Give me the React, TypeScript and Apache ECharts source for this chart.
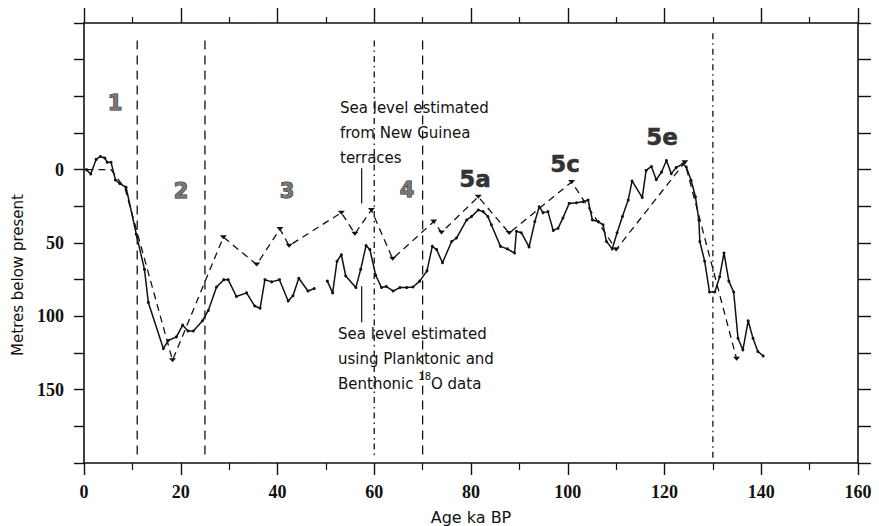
import React, { useEffect, useRef } from 'react';
import * as echarts from 'echarts';

// Sea level estimated using Planktonic and Benthonic 18O data (solid)
const solidAge = [
  0.5, 1.4, 2.5, 3.4, 4.3, 4.8, 5.6, 6.5, 7.4, 8.7, 10.8, 12.5, 13.3, 16.4, 17.4, 19.1, 20.4, 21.5, 22.6, 24.5,
  25.7, 27.4, 28.9, 29.8, 31.5, 33.6, 35.3, 36.4, 37.4, 38.8, 40.4, 42.2, 43.2, 44.4, 46.3, 47.6,
  49.0,
  50.3, 51.4, 52.3, 53.2, 54.1, 56.2, 57.2, 58.3, 59.1, 60.3, 61.5, 62.5, 63.9, 65.3, 66.7, 68.0, 69.4, 70.9,
  72.0, 72.9, 74.1, 76.0, 77.0, 79.1, 80.1, 81.5, 82.5, 83.5, 84.2, 86.1, 87.5, 89.0, 89.4, 90.4, 92.0, 93.2,
  94.1, 94.9, 95.9, 97.0, 98.0, 99.0, 100.3, 101.8, 103.2, 104.2, 105.1, 106.3, 107.3, 108.0, 109.2, 110.2,
  111.3, 112.5, 113.3, 115.4, 116.2, 117.3, 118.3, 119.4, 120.4, 121.4, 122.4, 123.8, 124.5, 125.5, 126.4,
  127.1, 127.3, 128.3, 129.3, 130.4, 131.4, 132.3, 133.3, 134.3, 135.2, 136.2, 137.3, 138.3, 139.3, 140.4,
];
const solidDepth: (number | null)[] = [
  0, 3, -7, -9, -8, -5, -5, 7, 9.5, 12, 44, 68, 90.5, 122, 116.5, 114, 106, 110, 110, 103,
  96, 80, 75, 75, 86.5, 84, 93, 94.5, 75, 76.5, 75, 89.5, 86, 74, 82.7, 81,
  null,
  76, 84, 62.4, 58, 72.5, 80.4, 68, 51.8, 54.5, 72, 80.4, 79.7, 82.7, 80.4, 80.4, 80, 76, 69,
  52.3, 54.5, 63.5, 49, 46.6, 34.3, 32, 27.5, 28.6, 32, 37.6, 52.3, 54, 56.8, 42, 43, 52.7, 35.4,
  25.3, 29.3, 28.6, 41.5, 39.9, 33, 23, 22.6, 21.9, 20.7, 34.3, 35.4, 37.6, 49, 54, 43,
  32, 20.7, 7.7, 19, 0.5, -2.2, 6.8, 1.6, -6.3, 2.7, -1.4, -4, -1.8, 7.2, 18.5,
  34.3, 49, 62.4, 83.4, 83.4, 73, 56.8, 76, 83.4, 115, 123, 103, 115, 124, 127,
];

// Sea level estimated from New Guinea terraces (dashed)
const terraceAge = [0.5, 5.6, 8.5, 18.3, 28.8, 35.7, 40.5, 42.4, 53.2, 56.0, 59.4, 63.8, 72.3, 73.9, 81.5, 87.9, 100.8, 110.0, 124.2, 134.9];
const terraceDepth = [0, 0, 13, 130, 46, 64.7, 40.5, 51.8, 29.3, 43.7, 27.5, 60.8, 35.4, 42.8, 18.5, 43.2, 8.4, 54.5, -5, 129];
const terraceMarked = [false, false, false, true, true, true, true, true, true, true, true, true, true, true, true, true, true, true, true, true];

// Stage boundaries
const boundaryAge = [11, 25, 60, 70, 130];
const boundaryStyle = ['dashed', 'dashed', 'dashdot', 'dashed', 'dashdot'];
const boundaryTop = [-88, -88, -88, -88, -93];
const boundaryBottom = 197;

// Leader lines from the annotations
const leaderAge = 57.4;
const leaderUpper = [-1, 23];
const leaderLower = [79.5, 104];

const xTicks = [0, 20, 40, 60, 80, 100, 120, 140, 160];
const yTickLabels = [0, 50, 100, 150];

const stageLabels = ['1', '2', '3', '4', '5a', '5c', '5e'];

export default function App() {
  const ref = useRef<HTMLDivElement>(null);
  useEffect(() => {
    document.body.style.margin = '0';
    const chart = echarts.init(ref.current!, null, { renderer: 'svg' });

    const solidData = solidAge.map((a, i) => [a, solidDepth[i] === null ? '-' : solidDepth[i]]);
    const terraceData = terraceAge.map((a, i) => ({
      value: [a, terraceDepth[i]],
      symbol: terraceMarked[i] ? 'path://M0 0L10 0L5 6Z' : 'none',
    }));

    const boundarySeries = boundaryAge.map((a, i) => ({
      type: 'line',
      data: [[a, boundaryTop[i]], [a, boundaryBottom]],
      symbol: 'none',
      silent: true,
      lineStyle: {
        color: '#111',
        width: 1.3,
        type: boundaryStyle[i] === 'dashed' ? [9, 6] : [6, 4, 1.5, 4],
      },
      z: 1,
    }));

    const leaderSeries = [leaderUpper, leaderLower].map((seg) => ({
      type: 'line',
      data: [[leaderAge, seg[0]], [leaderAge, seg[1]]],
      symbol: 'none',
      silent: true,
      lineStyle: { color: '#111', width: 1.2 },
    }));

    const axisLineStyle = { color: '#111', width: 1.6 };
    const serif = '"Liberation Serif", "DejaVu Serif", serif';
    const sans = '"DejaVu Sans", sans-serif';

    const stagePos = [
      [115, 103], [181, 191], [287, 191], [407, 190], [475, 179], [565, 164], [662, 137],
    ];

    const option: any = {
      animation: false,
      backgroundColor: '#fff',
      grid: { left: 84, right: 21, top: 23, bottom: 63, containLabel: false },
      xAxis: [
        {
          type: 'value', min: xTicks[0], max: xTicks[xTicks.length - 1], interval: 20, position: 'bottom',
          axisLine: { onZero: false, lineStyle: axisLineStyle },
          axisTick: { show: true, inside: false, length: 12, lineStyle: { color: '#111', width: 1.4 } },
          minorTick: { show: true, splitNumber: 2, length: 7, lineStyle: { color: '#111', width: 1.2 } },
          splitLine: { show: false },
          axisLabel: { color: '#111', fontFamily: serif, fontSize: 18, fontWeight: 'bold', margin: 20 },
        },
        {
          type: 'value', min: xTicks[0], max: xTicks[xTicks.length - 1], interval: 20, position: 'top',
          axisLine: { onZero: false, lineStyle: axisLineStyle },
          axisTick: { show: true, inside: false, length: 15, lineStyle: { color: '#111', width: 1.4 } },
          minorTick: { show: true, splitNumber: 2, length: 6, lineStyle: { color: '#111', width: 1.2 } },
          splitLine: { show: false },
          axisLabel: { show: false },
        },
      ],
      yAxis: [
        {
          type: 'value', inverse: true, min: -100, max: 200, interval: 25, position: 'left',
          axisLine: { onZero: false, lineStyle: axisLineStyle },
          axisTick: { show: true, inside: false, length: 10, lineStyle: { color: '#111', width: 1.4 } },
          splitLine: { show: false },
          axisLabel: {
            color: '#111', fontFamily: serif, fontSize: 18, fontWeight: 'bold', margin: 20,
            formatter: (v: number) => (yTickLabels.includes(v) ? String(v) : ''),
          },
        },
        {
          type: 'value', inverse: true, min: -100, max: 200, interval: 25, position: 'right',
          axisLine: { onZero: false, lineStyle: axisLineStyle },
          axisTick: { show: true, inside: false, length: 13, lineStyle: { color: '#111', width: 1.4 } },
          splitLine: { show: false },
          axisLabel: { show: false },
        },
      ],
      series: [
        ...boundarySeries,
        ...leaderSeries,
        {
          type: 'line',
          name: 'New Guinea terraces',
          data: terraceData,
          symbolSize: [7, 4],
          itemStyle: { color: '#111' },
          lineStyle: { color: '#111', width: 1.3, type: [7, 5] },
          z: 3,
        },
        {
          type: 'line',
          name: 'Planktonic and Benthonic 18O',
          data: solidData,
          connectNulls: false,
          symbol: 'circle',
          symbolSize: 3,
          showSymbol: true,
          itemStyle: { color: '#111' },
          lineStyle: { color: '#111', width: 1.5 },
          z: 4,
        },
      ],
      graphic: [
        ...stageLabels.map((t, i) => ({
          type: 'text',
          x: stagePos[i][0], y: stagePos[i][1],
          style: {
            text: t,
            fontFamily: '"DejaVu Sans", sans-serif',
            fontWeight: 'bold',
            fontSize: i < 4 ? 21 : 23,
            fill: i < 4 ? '#777' : '#333',
            stroke: '#222',
            lineWidth: i < 4 ? 1 : 0.5,
            align: 'center',
            verticalAlign: 'middle',
          },
        })),
        {
          type: 'text', x: 340, y: 95,
          style: {
            text: 'Sea level estimated\nfrom New Guinea\nterraces',
            fontFamily: sans, fontSize: 15, lineHeight: 25, fill: '#111',
            align: 'left', verticalAlign: 'top',
          },
        },
        {
          type: 'text', x: 338, y: 321,
          style: {
            text: 'Sea level estimated\nusing Planktonic and\nBenthonic {sup|18}O data',
            fontFamily: sans, fontSize: 15, lineHeight: 25, fill: '#111',
            align: 'left', verticalAlign: 'top',
            rich: { sup: { fontSize: 10, fontFamily: sans, verticalAlign: 'top', lineHeight: 20, fill: '#111' } },
          },
        },
        {
          type: 'text', x: 471, y: 517,
          style: { text: 'Age ka BP', fontFamily: sans, fontSize: 16, fill: '#111', align: 'center', verticalAlign: 'middle' },
        },
        {
          type: 'text', x: 18, y: 275, rotation: Math.PI / 2,
          style: { text: 'Metres below present', fontFamily: sans, fontSize: 15, fill: '#111', align: 'center', verticalAlign: 'middle' },
        },
      ],
    };
    chart.setOption(option);
    return () => chart.dispose();
  }, []);
  return <div ref={ref} style={{ position: 'absolute', left: 0, top: 0, width: 879, height: 526 }} />;
}
